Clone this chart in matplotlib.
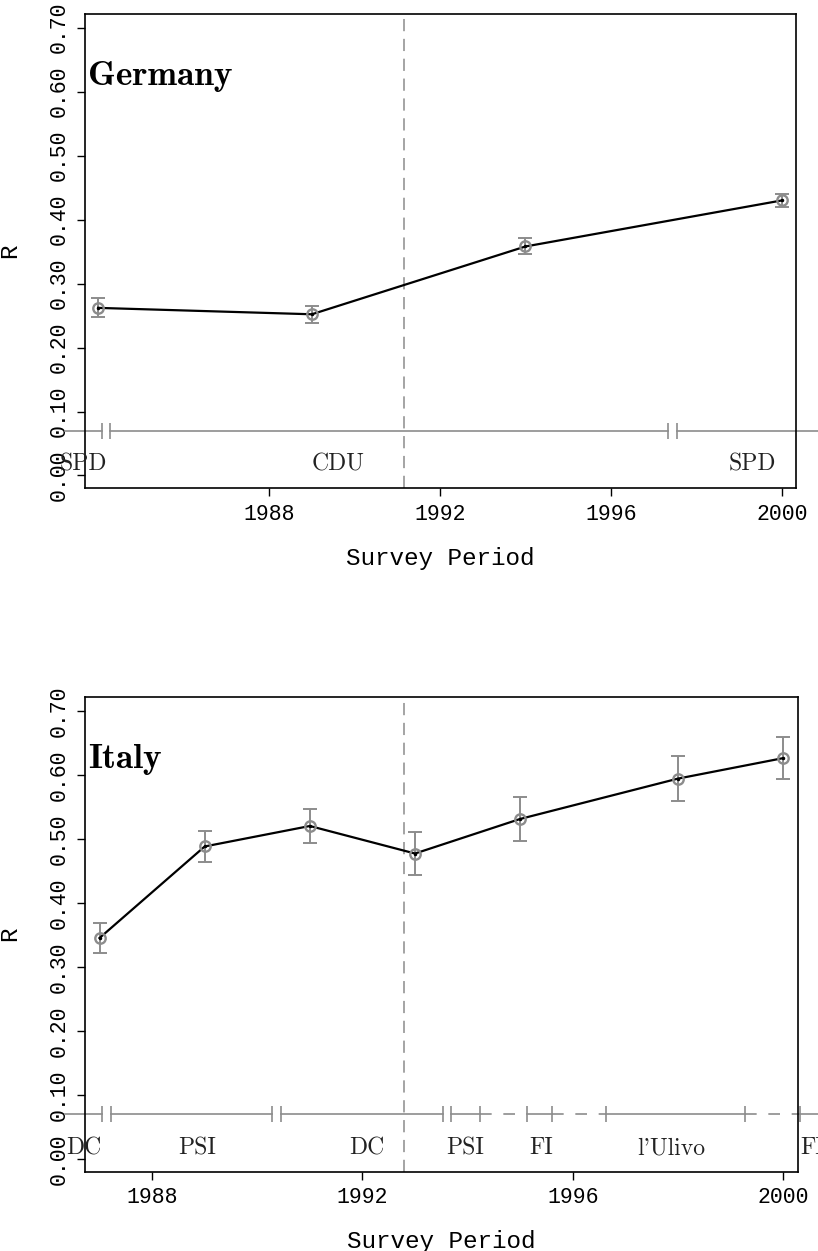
import numpy as np
import matplotlib.pyplot as plt

# Germany
de_years = [1984, 1989, 1994, 2000]
de_r = [0.262, 0.252, 0.358, 0.430]
de_err = [0.015, 0.013, 0.0125, 0.0105]
de_periods = [(1983.22, 1984.08), (1984.28, 1997.34), (1997.54, 2001.0)]
de_parties = [(1983.65, "SPD"), (1989.61, "CDU"), (1999.30, "SPD")]
de_break = 1991.15

# Italy
it_years = [1987, 1989, 1991, 1993, 1995, 1998, 2000]
it_r = [0.345, 0.488, 0.520, 0.477, 0.531, 0.594, 0.626]
it_err = [0.023, 0.024, 0.026, 0.033, 0.034, 0.035, 0.033]
it_periods = [(1986.34, 1987.04), (1987.21, 1990.28), (1990.45, 1993.53),
              (1993.69, 1994.24), (1995.13, 1995.61), (1996.64, 1999.28),
              (2000.32, 2001.0)]
it_parties = [(1986.71, "DC"), (1988.86, "PSI"), (1992.08, "DC"),
              (1993.96, "PSI"), (1995.40, "FI"), (1997.88, "l'Ulivo"),
              (2000.55, "FI")]
it_break = 1992.80

y_ticks = [0.0, 0.1, 0.2, 0.3, 0.4, 0.5, 0.6, 0.7]
x_ticks = [1988, 1992, 1996, 2000]

MONO = "Liberation Mono"
GREY = "#8c8c8c"
GOV_Y = 0.07
LABEL_Y = 0.017


def draw_panel(ax, name, years, r, err, periods, parties, brk, xlim):
    ax.set_xlim(*xlim)
    ax.set_ylim(-0.02, 0.722)

    # government periods along the bottom
    for i, (a, b) in enumerate(periods):
        ax.plot([a, b], [GOV_Y, GOV_Y], color=GREY, lw=1.2, clip_on=False)
        ends = []
        if i > 0:
            ends.append(a)
        if i < len(periods) - 1:
            ends.append(b)
            nxt = periods[i + 1][0]
            if nxt - b > 0.3:
                ax.plot([b, nxt], [GOV_Y, GOV_Y], color=GREY, lw=1.2,
                        ls=(0, (7, 7)), clip_on=False)
        ax.plot(ends, [GOV_Y] * len(ends), ls="none", marker="|", ms=11,
                mew=1.2, color=GREY, clip_on=False)
    for x, txt in parties:
        ax.text(x, LABEL_Y, txt, ha="center", va="center", fontsize=17,
                family="cmr10", color="#222222")

    ax.axvline(brk, color=GREY, lw=1.1, ls=(0, (8, 5)))

    ax.errorbar(years, r, yerr=err, fmt="none", ecolor=GREY, elinewidth=1.4,
                capsize=5, capthick=1.4, zorder=3)
    ax.plot(years, r, color="black", lw=1.6, zorder=4)
    ax.plot(years, r, ls="none", marker="o", ms=7.5, mfc="none", mec=GREY,
            mew=1.7, zorder=5)
    ax.plot(years, r, ls="none", marker="o", ms=1.5, color="black", zorder=6)

    ax.text(0.004, 0.61, name, transform=ax.get_yaxis_transform(),
            fontsize=25.5, family="cmb10", ha="left", va="baseline")

    ax.set_xticks(x_ticks)
    ax.set_yticks(y_ticks)
    ax.set_yticklabels([f"{v:.2f}" for v in y_ticks], rotation=90,
                       va="center", family=MONO, fontsize=15.5)
    ax.set_xticklabels([str(v) for v in x_ticks], family=MONO, fontsize=15.5)
    ax.tick_params(direction="out", length=6, width=1, pad=5)
    ax.set_xlabel("Survey Period", family=MONO, fontsize=17.5, labelpad=16)
    ax.set_ylabel("R", family=MONO, fontsize=17.5, labelpad=20)
    for s in ax.spines.values():
        s.set_linewidth(1.2)


fig = plt.figure(figsize=(8.18, 12.51), dpi=100)
ax1 = fig.add_axes([0.1043, 0.6097, 0.8688, 0.3794])
ax2 = fig.add_axes([0.1043, 0.0634, 0.8710, 0.3797])

draw_panel(ax1, "Germany", de_years, de_r, de_err, de_periods, de_parties,
           de_break, (1983.70, 2000.33))
draw_panel(ax2, "Italy", it_years, it_r, it_err, it_periods, it_parties,
           it_break, (1986.73, 2000.28))

fig.savefig("out.png", dpi=100)
